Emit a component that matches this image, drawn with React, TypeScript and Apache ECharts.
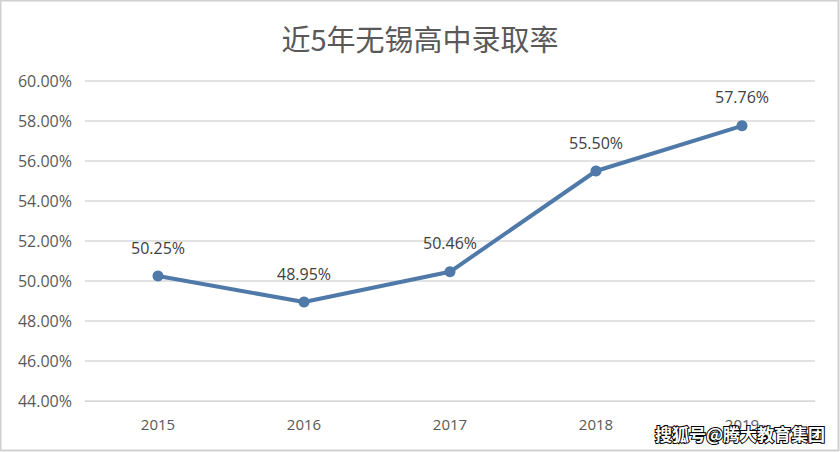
import React, { useEffect, useRef } from "react";
import * as echarts from "echarts";

const title = "近5年无锡高中录取率";
const years = ["2015", "2016", "2017", "2018", "2019"];
const rates = [50.25, 48.95, 50.46, 55.5, 57.76];
const watermark = "搜狐号@腾大教育集团";

export default function App() {
  const ref = useRef<HTMLDivElement>(null);
  useEffect(() => {
    if (!ref.current) return;
    const chart = echarts.init(ref.current, null, { renderer: "svg" });
    chart.setOption({
      animation: false,
      backgroundColor: "#ffffff",
      title: {
        text: title,
        left: "center",
        top: 18,
        textStyle: {
          fontFamily: "Noto Sans CJK SC",
          fontSize: 29,
          fontWeight: "normal",
          color: "#595959",
        },
      },
      grid: { left: 85, right: 25, top: 81, bottom: 51 },
      xAxis: {
        type: "category",
        data: years,
        axisLine: { show: true, lineStyle: { color: "#d9d9d9", width: 1 } },
        axisTick: { show: false },
        axisLabel: {
          color: "#595959",
          fontSize: 15,
          margin: 15,
          fontFamily: "Open Sans",
        },
      },
      yAxis: {
        type: "value",
        min: 44,
        max: 60,
        interval: 2,
        axisLine: { show: false },
        axisTick: { show: false },
        splitLine: { lineStyle: { color: "#d9d9d9", width: 1.5 } },
        axisLabel: {
          color: "#595959",
          fontSize: 16,
          margin: 13,
          fontFamily: "Open Sans",
          formatter: (v: number) => v.toFixed(2) + "%",
        },
      },
      series: [
        {
          type: "line",
          data: rates,
          symbol: "circle",
          symbolSize: 11,
          lineStyle: { color: "#4e79a9", width: 4 },
          itemStyle: { color: "#4e79a9" },
          label: {
            show: true,
            position: "top",
            distance: 15,
            color: "#404040",
            fontSize: 16,
            fontFamily: "Open Sans",
            formatter: (p: any) => p.value.toFixed(2) + "%",
          },
        },
      ],
      graphic: [
        {
          type: "rect",
          shape: { x: 0.5, y: 0.5, width: 838, height: 450 },
          style: { fill: "none", stroke: "#d0d0d0", lineWidth: 2 },
          silent: true,
        },
        {
          type: "text",
          right: 14,
          top: 424,
          style: {
            text: watermark,
            fill: "#ffffff",
            stroke: "#000000",
            lineWidth: 2,
            font: "bold 17px 'Noto Sans CJK SC'",
          },
          z: 100,
        },
      ],
    });
    return () => chart.dispose();
  }, []);
  return (
    <div
      ref={ref}
      style={{ position: "fixed", left: 0, top: 0, width: 840, height: 452 }}
    />
  );
}
